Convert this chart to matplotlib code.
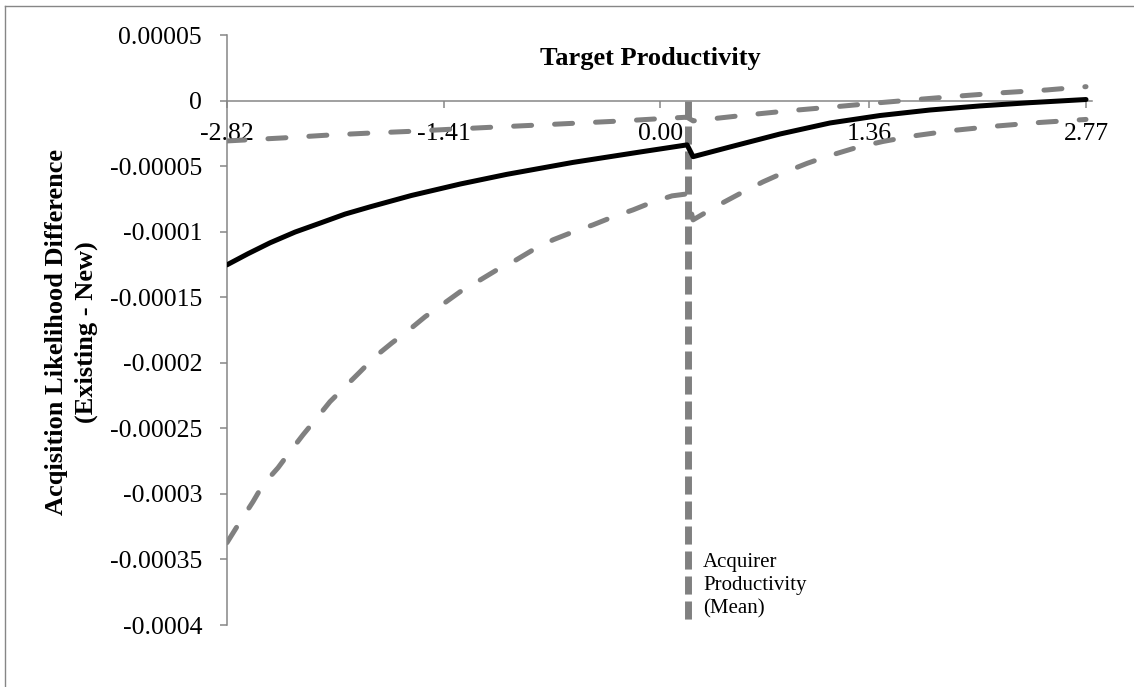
import numpy as np
import matplotlib
matplotlib.use('Agg')
import matplotlib.pyplot as plt
from matplotlib.lines import Line2D

plt.rcParams['font.family'] = ['Liberation Serif', 'DejaVu Serif']

# Datos
# Linea central (negra)
x_mid = [-2.82, -2.683, -2.54, -2.377, -2.21, -2.052, -1.89, -1.62, -1.30, -1.00,
         -0.57, -0.13, 0.174,
         0.213, 0.453, 0.779, 1.104, 1.430, 1.755, 2.080, 2.406, 2.77]
y_mid = [-0.0001253, -0.0001168, -0.0001085, -0.0001003, -0.0000933, -0.0000866,
         -0.0000811, -0.0000724, -0.0000636, -0.0000563, -0.0000472, -0.0000392,
         -0.0000338,
         -0.0000428, -0.0000354, -0.0000255, -0.0000171, -0.0000114, -0.0000072,
         -0.0000041, -0.0000016, 0.0000008]

# Banda superior (gris discontinua)
x_hi = [-2.82, -2.456, -2.169, -1.909, -1.629, -1.349, -1.089, -0.783, -0.523, -0.243,
        0.043, 0.174, 0.213, 0.564, 0.844, 1.150, 1.430, 1.690, 1.950,
        2.230, 2.516, 2.77]
y_hi = [-0.0000308, -0.0000285, -0.0000264, -0.0000249, -0.0000235, -0.0000218,
        -0.0000203, -0.0000186, -0.0000171, -0.0000155, -0.0000135, -0.0000127,
        -0.0000155, -0.0000110, -0.0000077, -0.0000046, -0.0000016,
        0.0000010, 0.0000035, 0.0000060, 0.0000081, 0.0000106]

# Banda inferior (gris discontinua)
x_lo = [-2.82, -2.735, -2.651, -2.586, -2.488, -2.410, -2.325, -2.234, -2.150, -2.052,
        -1.954, -1.857, -1.746, -1.642, -1.531, -1.421, -1.304, -1.193, -1.063, -0.959,
        -0.829, -0.698, -0.568, -0.438, -0.308, -0.178, -0.048, 0.076, 0.174,
        0.213, 0.369, 0.538, 0.668, 0.798, 0.955, 1.085, 1.280, 1.449, 1.645,
        1.905, 2.191, 2.471, 2.77]
y_lo = [-0.0003372, -0.0003212, -0.0003060, -0.0002930, -0.0002801, -0.0002678,
        -0.0002549, -0.0002419, -0.0002297, -0.0002183, -0.0002069, -0.0001954,
        -0.0001848, -0.0001756, -0.0001649, -0.0001558, -0.0001459, -0.0001383,
        -0.0001291, -0.0001230, -0.0001139, -0.0001062, -0.0001002, -0.0000948,
        -0.0000887, -0.0000834, -0.0000773, -0.0000727, -0.0000712,
        -0.0000910, -0.0000803, -0.0000697, -0.0000620, -0.0000552, -0.0000479,
        -0.0000426, -0.0000357, -0.0000312, -0.0000270, -0.0000228, -0.0000194,
        -0.0000167, -0.0000144]

# Productividad media del adquirente (linea vertical)
x_mean = [0.18, 0.18]
y_mean = [0.0, -0.0004]

x_ticks = [-2.82, -1.41, 0.00, 1.36, 2.77]
x_tick_labels = ['-2.82', '-1.41', '0.00', '1.36', '2.77']
y_ticks = [0.00005, 0.0, -0.00005, -0.0001, -0.00015, -0.0002, -0.00025,
           -0.0003, -0.00035, -0.0004]
y_tick_labels = ['0.00005', '0', '-0.00005', '-0.0001', '-0.00015', '-0.0002',
                 '-0.00025', '-0.0003', '-0.00035', '-0.0004']

W, H = 1134, 687
axis_gray = '#868686'
line_gray = '#808080'

fig = plt.figure(figsize=(W / 100, H / 100), dpi=100)
ax = fig.add_axes([227 / W, 1 - 625 / H, (1092 - 227) / W, (625 - 35) / H])

ax.plot(x_lo, y_lo, color=line_gray, lw=3.6, ls=(0, (3.6, 4.6)),
        dash_capstyle='round', zorder=2)
ax.plot(x_hi, y_hi, color=line_gray, lw=3.6, ls=(0, (3.6, 4.6)),
        dash_capstyle='round', zorder=2)
ax.plot(x_mean, y_mean, color=line_gray, lw=5, ls=(0, (2.6, 1.0)),
        dash_capstyle='butt', zorder=2)
ax.plot(x_mid, y_mid, color='black', lw=3.6, solid_capstyle='round',
        solid_joinstyle='round', zorder=3)

ax.set_xlim(-2.82, 2.77 + 6 * 5.59 / 859)
ax.set_ylim(-0.0004, 0.00005)

ax.spines['top'].set_visible(False)
ax.spines['right'].set_visible(False)
ax.spines['bottom'].set_position(('data', 0))
for s in ['left', 'bottom']:
    ax.spines[s].set_color(axis_gray)
    ax.spines[s].set_linewidth(1.1)

ax.set_xticks(x_ticks)
ax.set_xticklabels(x_tick_labels)
ax.set_yticks(y_ticks)
ax.set_yticklabels(y_tick_labels)
ax.tick_params(axis='x', direction='out', length=5, width=1.1, color=axis_gray,
               pad=11, labelsize=18.5)
ax.tick_params(axis='y', direction='out', length=5, width=1.1, color=axis_gray,
               pad=13, labelsize=18.5)

ax.text(0.278, -0.000345, 'Acquirer\nProductivity\n(Mean)', fontsize=15,
        ha='left', va='top', linespacing=1.3)

fig.text(650 / W, 1 - 58 / H, 'Target Productivity', fontsize=19,
         fontweight='bold', ha='center', va='center')
fig.text(71.5 / W, 1 - 332 / H, 'Acqisition Likelihood Difference\n(Existing - New)',
         fontsize=19, fontweight='bold', rotation=90, ha='center', va='center',
         multialignment='center', linespacing=1.4)

# Marco exterior
fig.add_artist(Line2D([5 / W, 5 / W], [0, 1 - 6 / H], transform=fig.transFigure,
                      color=axis_gray, lw=1))
fig.add_artist(Line2D([5 / W, 1], [1 - 6 / H, 1 - 6 / H], transform=fig.transFigure,
                      color=axis_gray, lw=1))

plt.savefig('out.png', dpi=100)
plt.close('all')
